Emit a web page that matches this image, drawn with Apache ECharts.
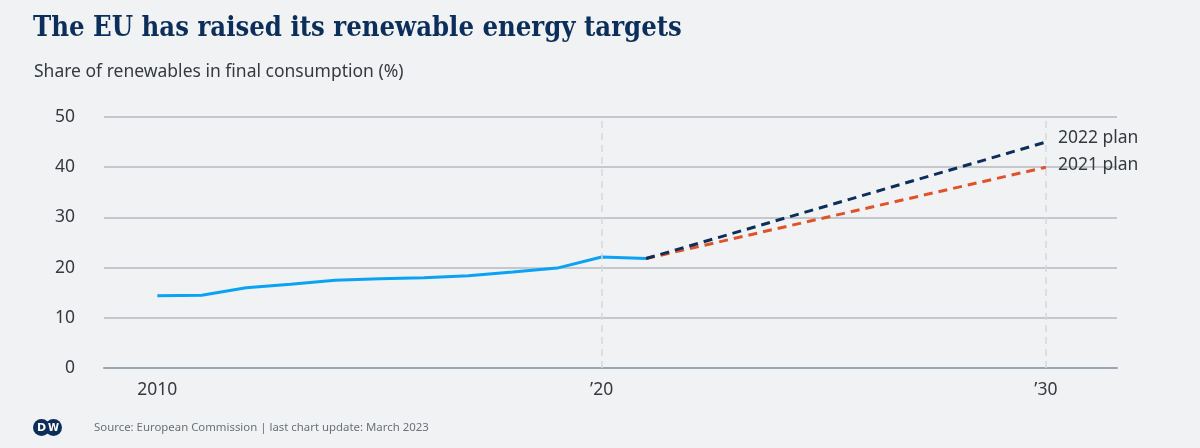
<!DOCTYPE html>
<html>
<head>
<meta charset="utf-8">
<script src="https://cdn.jsdelivr.net/npm/echarts@6/dist/echarts.min.js"></script>
<style>
  html, body { margin: 0; padding: 0; background: #f1f2f4; }
  #chart { width: 1200px; height: 448px; }
</style>
</head>
<body>
<div id="chart"></div>
<script>
// ---- data ----
const years = [2010, 2011, 2012, 2013, 2014, 2015, 2016, 2017, 2018, 2019, 2020, 2021];
const actualShare = [14.4, 14.5, 16.0, 16.7, 17.5, 17.8, 18.0, 18.4, 19.1, 19.9, 22.1, 21.8];
const planYears = [2021, 2030];
const plan2021 = [21.8, 40];
const plan2022 = [21.8, 45];
const xTickYears = [2010, 2020, 2030];
const refLineYears = [2020, 2030];

const titleText = 'The EU has raised its renewable energy targets';
const subtitleText = 'Share of renewables in final consumption (%)';
const sourceText = 'Source: European Commission | last chart update: March 2023';

const pairs = (xs, ys) => xs.map((x, i) => [x, ys[i]]);

const chart = echarts.init(document.getElementById('chart'), null, { renderer: 'canvas' });

const dash = [9, 6];

chart.setOption({
  backgroundColor: '#f1f2f4',
  animation: false,
  title: [
    {
      text: titleText,
      left: 33, top: 15, padding: 0,
      textStyle: { fontFamily: 'DejaVu Serif Condensed', fontWeight: 'bold', fontSize: 27.2, color: '#0c2e5a' }
    },
    {
      text: subtitleText,
      left: 34, top: 63, padding: 0,
      textStyle: { fontFamily: 'Noto Sans', fontWeight: 'normal', fontSize: 17.5, color: '#363a3f' }
    },
    {
      text: sourceText,
      left: 94, top: 422, padding: 0,
      textStyle: { fontFamily: 'Noto Sans', fontWeight: 'normal', fontSize: 11.4, color: '#6b7075' }
    }
  ],
  graphic: [
    {
      type: 'group',
      left: 33, top: 419,
      children: [
        { type: 'circle', shape: { cx: 8.5, cy: 9, r: 8.5 }, style: { fill: '#0c2e5a' } },
        { type: 'circle', shape: { cx: 20.5, cy: 9, r: 8.5 }, style: { fill: '#0c2e5a' } },
        { type: 'text', style: { text: 'D', x: 8.5, y: 9.5, align: 'center', verticalAlign: 'middle', fill: '#ffffff', font: 'bold 11px "DejaVu Sans"' } },
        { type: 'text', style: { text: 'W', x: 20.5, y: 9.5, align: 'center', verticalAlign: 'middle', fill: '#ffffff', font: 'bold 10px "DejaVu Sans"' } }
      ]
    }
  ],
  grid: { left: 104, right: 83, top: 117, bottom: 80, containLabel: false },
  xAxis: {
    type: 'value',
    min: 2008.8,
    max: 2031.6,
    axisLine: { show: true, lineStyle: { color: '#9ea4ab', width: 2 } },
    axisTick: { show: false },
    splitLine: { show: false },
    axisLabel: {
      customValues: xTickYears,
      margin: 13,
      fontFamily: 'Noto Sans',
      fontSize: 17.5,
      color: '#363a3f',
      formatter: v => (v === xTickYears[0] ? String(v) : '\u2019' + String(v).slice(2))
    }
  },
  yAxis: {
    type: 'value',
    min: 0, max: 50, interval: 10,
    axisLine: { show: false },
    axisTick: { show: false },
    axisLabel: { margin: 29, fontFamily: 'Noto Sans', fontSize: 17.5, color: '#363a3f' },
    splitLine: { lineStyle: { color: '#b4bac1', width: 1.5 } }
  },
  series: [
    {
      name: 'reference lines',
      type: 'line',
      data: [],
      markLine: {
        silent: true,
        symbol: 'none',
        label: { show: false },
        lineStyle: { color: '#d3d7dc', type: [7, 5], width: 1.5 },
        data: refLineYears.map(y => ({ xAxis: y }))
      }
    },
    {
      name: 'actual',
      type: 'line',
      data: pairs(years, actualShare),
      showSymbol: false,
      lineStyle: { color: '#0aa2f5', width: 3 },
      z: 3
    },
    {
      name: '2021 plan',
      type: 'line',
      data: pairs(planYears, plan2021),
      showSymbol: false,
      lineStyle: { color: '#e0522a', width: 3, type: dash },
      endLabel: { show: true, formatter: '2021 plan', distance: 12, offset: [0, -2], fontFamily: 'Noto Sans', fontSize: 17.5, color: '#363a3f' },
      z: 4
    },
    {
      name: '2022 plan',
      type: 'line',
      data: pairs(planYears, plan2022),
      showSymbol: false,
      lineStyle: { color: '#0c2e5a', width: 3, type: dash },
      endLabel: { show: true, formatter: '2022 plan', distance: 12, offset: [0, -4], fontFamily: 'Noto Sans', fontSize: 17.5, color: '#363a3f' },
      z: 5
    }
  ]
});
</script>
</body>
</html>
